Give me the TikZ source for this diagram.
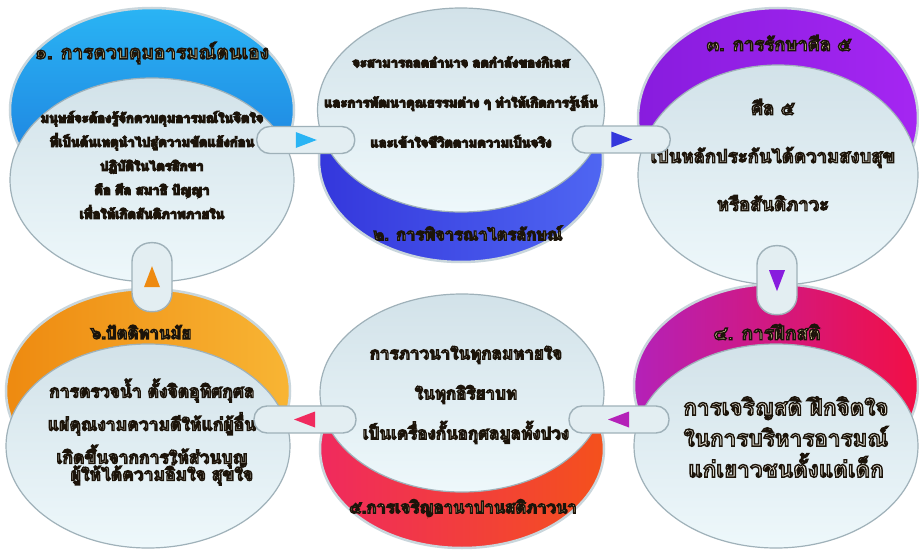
\documentclass[tikz,border=0pt]{standalone}
\usepackage{fontspec}
\usepackage{tikz}
\usetikzlibrary{shapes.geometric, calc, positioning}
\newfontfamily\thaifont[Script=Thai]{Loma}
\definecolor{bodytop}{HTML}{D2E2E9}
\definecolor{bodybot}{HTML}{EEF8FB}
\definecolor{bodyline}{HTML}{9FB1B9}
\definecolor{bandrim}{HTML}{C9D6DC}
\definecolor{pillfill}{HTML}{E3EEF2}
\definecolor{titlefill}{HTML}{FFF3B4}
\definecolor{copyfill}{HTML}{F4F1E4}
\definecolor{skyA}{HTML}{1B74DA}
\definecolor{skyB}{HTML}{2AB4F4}
\definecolor{indigoA}{HTML}{3437DC}
\definecolor{indigoB}{HTML}{4F66F2}
\definecolor{violetA}{HTML}{881CDE}
\definecolor{violetB}{HTML}{A526F2}
\definecolor{roseA}{HTML}{B421B8}
\definecolor{roseB}{HTML}{F20F45}
\definecolor{coralA}{HTML}{F02A5E}
\definecolor{coralB}{HTML}{F4511C}
\definecolor{amberA}{HTML}{EE8A10}
\definecolor{amberB}{HTML}{F8B534}
% dark outline round light letters
\newcommand{\outl}[1]{\special{pdf:literal direct 2 Tr 1.4 w 0.11 0.08 0.04 RG}#1\special{pdf:literal direct 0 Tr}}
\newcommand{\pointer}[3]{%
  \begin{scope}[shift={(#1)}, rotate=#3]
    \fill[#2] (-10,-8) -- (11,0) -- (-10,8) -- cycle;
  \end{scope}}

\begin{document}
\begin{tikzpicture}[x=1pt, y=-1pt,
    disc/.style={ellipse, inner sep=0pt, minimum width=284pt, minimum height=204pt},
    body/.style={disc, draw=bodyline, line width=1.2pt, top color=bodytop, bottom color=bodybot},
    band/.style 2 args={disc, draw=bandrim, line width=2.5pt, left color=#1, right color=#2},
    title/.style={font=\thaifont\bfseries\fontsize{#1}{20}\selectfont, text=titlefill},
    copy/.style={font=\thaifont\bfseries, text=copyfill, align=center},
    pill/.style={draw=bodyline, line width=1.4pt, fill=pillfill, rounded corners=13pt,
                 minimum width=98pt, minimum height=27pt},
    vpill/.style={pill, rounded corners=19pt, minimum width=40pt, minimum height=69pt}]
  \useasboundingbox[fill=white] (0,0) rectangle (919,551);

  % top row
  \node[band={skyA}{skyB}, top color=skyB, bottom color=skyA] (band1) at (152,110) {};
  \node[body] (body1) at (152,180) {};
  \node[band={indigoA}{indigoB}] (band2) at (461,160) {};
  \node[body, minimum width=287pt] (body2) at (461,110) {};
  \node[band={violetA}{violetB}, minimum width=280pt, minimum height=220pt] (band3) at (778,118) {};
  \node[body, minimum width=280pt, minimum height=220pt] (body3) at (778,175) {};

  % bottom row
  \node[band={roseA}{roseB}] (band4) at (776,386) {};
  \node[body] (body4) at (776,446) {};
  \node[band={coralA}{coralB}, minimum height=198pt] (band5) at (462,449) {};
  \node[body, minimum height=198pt] (body5) at (462,393) {};
  \node[band={amberA}{amberB}] (band6) at (148,391) {};
  \node[body] (body6) at (148,446) {};

  \node[title=19] (title1) at (152,53) {\outl{๑. การควบคุมอารมณ์ตนเอง}};
  \node[title=16.5] (title2) at (468,233) {\outl{๒. การพิจารณาไตรลักษณ์}};
  \node[title=18.5] (title3) at (779,43) {\outl{๓. การรักษาศีล ๕}};
  \node[title=19] (title4) at (767,332) {\outl{๔. การฝึกสติ}};
  \node[title=16.7] (title5) at (463,508) {\outl{๕.การเจริญอานาปานสติภาวนา}};
  \node[title=16.8] (title6) at (141,332) {\outl{๖.ปัตติทานมัย}};

  \node[copy, font=\thaifont\bfseries\fontsize{13}{24}\selectfont] (text1) at (152,165)
    {\outl{มนุษย์จะต้องรู้จักควบคุมอารมณ์ในจิตใจ}\\ \outl{ที่เป็นต้นเหตุนำไปสู่ความขัดแย้งก่อน}\\
     \outl{ปฏิบัติในไตรสิกขา}\\ \outl{คือ ศีล สมาธิ ปัญญา}\\ \outl{เพื่อให้เกิดสันติภาพภายใน}};
  \node[copy, font=\thaifont\bfseries\fontsize{13}{40}\selectfont] (text2) at (461,102)
    {\outl{จะสามารถลดอำนาจ ลดกำลังของกิเลส}\\ \outl{และการพัฒนาคุณธรรมต่าง ๆ ทำให้เกิดการรู้เห็น}\\
     \outl{และเข้าใจชีวิตตามความเป็นจริง}};
  \node[copy, font=\thaifont\bfseries\fontsize{18.5}{48}\selectfont] (text3) at (773,155)
    {\outl{ศีล ๕}\\ \outl{เป็นหลักประกันได้ความสงบสุข}\\ \outl{หรือสันติภาวะ}};
  \node[copy, font=\thaifont\bfseries\fontsize{22.5}{31}\selectfont] (text4) at (786,437)
    {\outl{การเจริญสติ ฝึกจิตใจ}\\ \outl{ในการบริหารอารมณ์}\\ \outl{แก่เยาวชนตั้งแต่เด็ก}};
  \node[copy, font=\thaifont\bfseries\fontsize{17}{40}\selectfont] (text5) at (466,395)
    {\outl{การภาวนาในทุกลมหายใจ}\\ \outl{ในทุกอิริยาบท}\\ \outl{เป็นเครื่องกั้นอกุศลมูลทั้งปวง}};
  \node[copy, font=\thaifont\bfseries\fontsize{17.5}{33}\selectfont] (text6) at (152,432)
    {\outl{การตรวจน้ำ ตั้งจิตอุทิศกุศล}\\ \outl{แผ่คุณงามความดีให้แก่ผู้อื่น}\\
     \outl{เกิดขึ้นจากการให้ส่วนบุญ}\\[-16pt] \hspace*{20pt}\outl{ผู้ให้ได้ความอิ่มใจ สุขใจ}};

  % links between the steps
  \node[pill] (link12) at ($(body1.east)!.5!(body2.west)+(0,-5)$) {};
  \node[pill] (link23) at ($(body2.east)!.5!(body3.west)+(0,-3)$) {};
  \node[vpill] (link34) at ($(body3.south)!.5!(band4.north)+(0,-4)$) {};
  \node[pill, minimum width=100pt] (link45) at ($(body4.west)!.5!(body5.east)$) {};
  \node[pill, minimum width=102pt] (link56) at ($(body5.west)!.5!(body6.east)$) {};
  \node[vpill] (link61) at ($(body1.south)!.5!(band6.north)+(2,-8)$) {};
  \pointer{link12}{skyB}{0}
  \pointer{link23}{indigoA}{0}
  \pointer{link34}{violetA}{270}
  \pointer{link45}{roseA}{180}
  \pointer{link56}{coralA}{180}
  \pointer{link61}{amberA}{90}
\end{tikzpicture}
\end{document}
